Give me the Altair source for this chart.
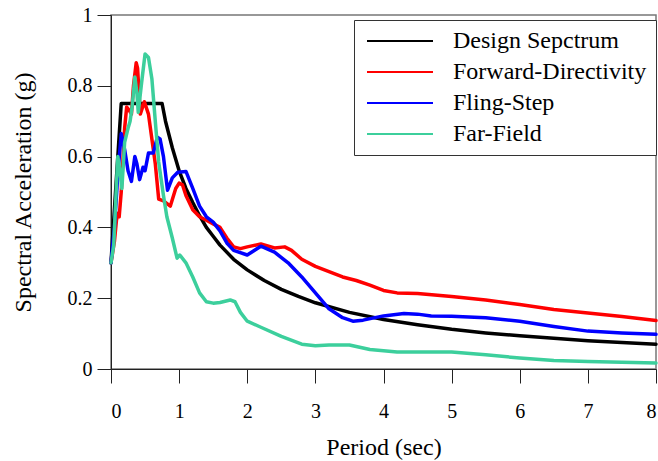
import altair as alt
import pandas as pd

series_names = ["Design Sepctrum", "Forward-Directivity", "Fling-Step", "Far-Field"]
series_colors = ["#000000", "#ff0000", "#0000ff", "#3ccf9c"]

design_T = [0, 0.15, 0.75, 0.8, 0.9, 1.0, 1.1, 1.2, 1.3, 1.4, 1.5, 1.6, 1.8, 2.0, 2.25, 2.5,
            2.75, 3.0, 3.5, 4.0, 4.5, 5.0, 5.5, 6.0, 6.5, 7.0, 7.5, 8.0]
design_Sa = [0.30, 0.75, 0.75, 0.70, 0.625, 0.56, 0.51, 0.47, 0.433, 0.40, 0.375, 0.35, 0.31,
             0.28, 0.25, 0.225, 0.205, 0.187, 0.16, 0.14, 0.125, 0.112, 0.102, 0.094, 0.087,
             0.080, 0.075, 0.070]

fwd_T = [0, 0.05, 0.08, 0.10, 0.12, 0.15, 0.20, 0.23, 0.27, 0.30, 0.33, 0.37, 0.39, 0.43,
         0.49, 0.55, 0.60, 0.65, 0.70, 0.77, 0.87, 0.95, 1.0, 1.05, 1.1, 1.2, 1.3, 1.4, 1.5,
         1.6, 1.7, 1.8, 1.9, 2.0, 2.2, 2.4, 2.55, 2.65, 2.8, 3.0, 3.2, 3.4, 3.6, 3.8, 4.0,
         4.2, 4.5, 5.0, 5.5, 6.0, 6.5, 7.0, 7.5, 8.0]
fwd_Sa = [0.30, 0.36, 0.42, 0.44, 0.43, 0.50, 0.68, 0.74, 0.73, 0.72, 0.80, 0.865, 0.85, 0.72,
          0.755, 0.72, 0.65, 0.58, 0.48, 0.475, 0.46, 0.51, 0.525, 0.52, 0.49, 0.45, 0.43,
          0.42, 0.41, 0.40, 0.37, 0.345, 0.34, 0.345, 0.353, 0.342, 0.345, 0.335, 0.31, 0.29,
          0.275, 0.26, 0.25, 0.237, 0.222, 0.215, 0.213, 0.205, 0.195, 0.182, 0.168, 0.158,
          0.148, 0.137]

fling_T = [0, 0.05, 0.10, 0.15, 0.20, 0.25, 0.30, 0.35, 0.38, 0.42, 0.47, 0.50, 0.55, 0.62,
           0.68, 0.72, 0.77, 0.83, 0.90, 0.98, 1.1, 1.2, 1.3, 1.4, 1.5, 1.6, 1.7, 1.8, 2.0,
           2.2, 2.4, 2.6, 2.8, 3.0, 3.2, 3.4, 3.55, 3.7, 4.0, 4.3, 4.5, 4.7, 5.0, 5.5, 6.0,
           6.5, 7.0, 7.5, 8.0]
fling_Sa = [0.30, 0.40, 0.55, 0.665, 0.62, 0.56, 0.53, 0.60, 0.58, 0.535, 0.57, 0.56, 0.61,
            0.61, 0.655, 0.65, 0.60, 0.505, 0.54, 0.556, 0.558, 0.51, 0.46, 0.43, 0.415, 0.39,
            0.356, 0.335, 0.322, 0.347, 0.33, 0.30, 0.26, 0.215, 0.17, 0.145, 0.135, 0.138,
            0.15, 0.157, 0.155, 0.15, 0.149, 0.145, 0.135, 0.12, 0.107, 0.102, 0.098]

far_T = [0, 0.04, 0.08, 0.10, 0.13, 0.16, 0.20, 0.25, 0.28, 0.31, 0.35, 0.38, 0.40, 0.45,
         0.50, 0.55, 0.60, 0.65, 0.70, 0.77, 0.82, 0.90, 0.97, 1.01, 1.1, 1.2, 1.3, 1.4, 1.5,
         1.6, 1.75, 1.82, 1.9, 2.0, 2.2, 2.5, 2.8, 3.0, 3.2, 3.5, 3.8, 4.2, 5.0, 5.5, 6.0,
         6.5, 7.0, 8.0]
far_Sa = [0.30, 0.35, 0.52, 0.60, 0.56, 0.51, 0.64, 0.68, 0.70, 0.74, 0.825, 0.78, 0.725,
          0.81, 0.89, 0.88, 0.82, 0.70, 0.585, 0.49, 0.43, 0.37, 0.313, 0.322, 0.30, 0.26,
          0.215, 0.19, 0.186, 0.188, 0.195, 0.19, 0.16, 0.135, 0.118, 0.092, 0.07, 0.066,
          0.068, 0.068, 0.055, 0.048, 0.048, 0.04, 0.031, 0.024, 0.021, 0.017]

rows = []
for name, Ts, Ss in zip(series_names,
                        [design_T, fwd_T, fling_T, far_T],
                        [design_Sa, fwd_Sa, fling_Sa, far_Sa]):
    for i, (t, s) in enumerate(zip(Ts, Ss)):
        rows.append({"series": name, "T": t, "Sa": s, "i": i})
df = pd.DataFrame(rows)

FONT = "Liberation Serif"

lines = alt.Chart(df).mark_line(strokeWidth=3.5, strokeJoin="round", strokeCap="round").encode(
    x=alt.X("T:Q", scale=alt.Scale(domain=[0, 8], nice=False),
            axis=alt.Axis(title="Period (sec)", values=[0, 1, 2, 3, 4, 5, 6, 7, 8],
                          format="d", grid=False, tickSize=14, tickColor="#222",
                          domainColor="#222", labelFont=FONT, labelFontSize=20,
                          labelBaseline="alphabetic", labelPadding=34, labelColor="black",
                          titleFont=FONT, titleFontSize=24, titleFontWeight="normal",
                          titleBaseline="alphabetic", titleY=85, titleColor="black")),
    y=alt.Y("Sa:Q", scale=alt.Scale(domain=[0, 1], nice=False),
            axis=alt.Axis(title="Spectral Acceleration (g)", values=[0, 0.2, 0.4, 0.6, 0.8, 1],
                          labelExpr="datum.value == 0 ? '0' : datum.value == 1 ? '1' : format(datum.value, '.1f')",
                          grid=False, tickSize=14, tickColor="#222", domainColor="#222",
                          labelFont=FONT, labelFontSize=20, labelPadding=5, labelColor="black",
                          titleFont=FONT, titleFontSize=24, titleFontWeight="normal",
                          titleX=-76, titleY=177, titleColor="black")),
    color=alt.Color("series:N",
                    scale=alt.Scale(domain=series_names, range=series_colors),
                    legend=alt.Legend(title=None, orient="none", legendX=243, legendY=5,
                                      symbolType="M-8.25,0H8.25", symbolSize=64,
                                      symbolStrokeWidth=2, symbolOffset=25, labelOffset=41,
                                      labelFont=FONT, labelFontSize=24, labelColor="black",
                                      labelLimit=400, rowPadding=7, padding=9,
                                      strokeColor="#333", fillColor="white")),
    order="i:Q",
)

chart = lines.properties(
    width=545, height=354,
    autosize=alt.AutoSizeParams(type="none"),
    padding={"left": 111, "top": 15, "right": 2, "bottom": 92},
).configure(font=FONT).configure_view(stroke="#777", strokeWidth=1.5)

chart.save("out.html", embed_options={"renderer": "svg", "actions": False})
